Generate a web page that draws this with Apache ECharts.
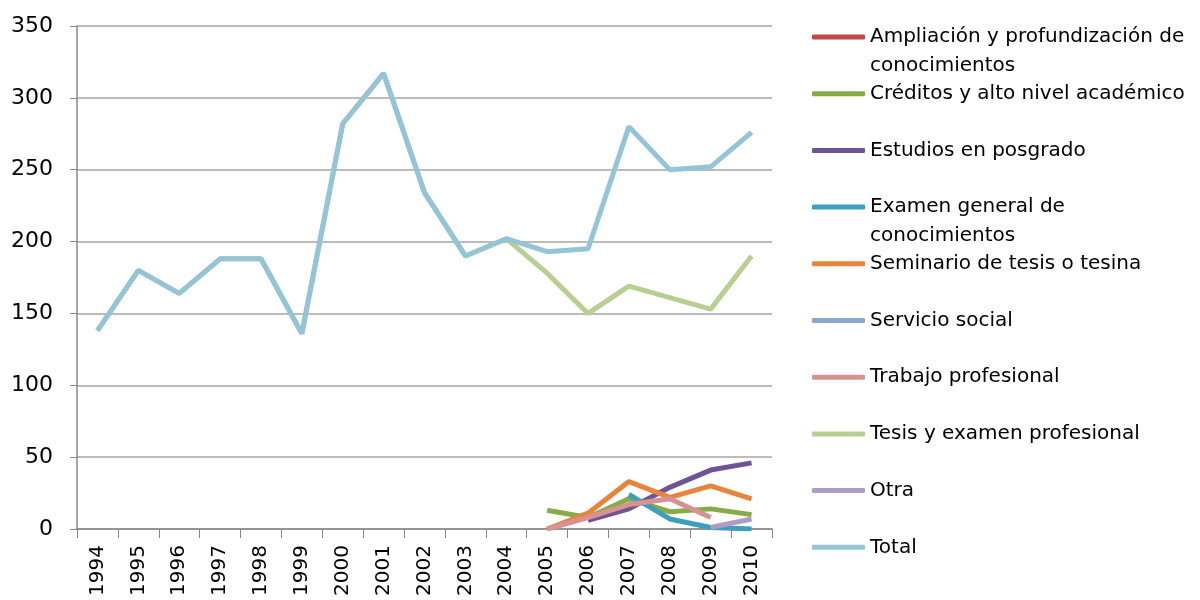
<!DOCTYPE html>
<html>

<head>
    <meta charset="UTF-8">
    <title>ECharts líneas por modalidad</title>
    <script src="https://cdn.jsdelivr.net/npm/echarts@6.0.0/dist/echarts.min.js"></script>
</head>

<body style="margin:0">
    <div id="main" style="width: 1200px; height: 600px;"></div>
    <script>
        // datos
        const years = ['1994', '1995', '1996', '1997', '1998', '1999', '2000', '2001', '2002',
            '2003', '2004', '2005', '2006', '2007', '2008', '2009', '2010'];

        const seriesNames = [
            'Ampliación y profundización de conocimientos',
            'Créditos y alto nivel académico',
            'Estudios en posgrado',
            'Examen general de conocimientos',
            'Seminario de tesis o tesina',
            'Servicio social',
            'Trabajo profesional',
            'Tesis y examen profesional',
            'Otra',
            'Total'
        ];

        const _ = null;
        const ampliacion = [_, _, _, _, _, _, _, _, _, _, _, _, _, _, _, _, _];
        const creditos = [_, _, _, _, _, _, _, _, _, _, _, 13, 8, 21, 12, 14, 10];
        const posgrado = [_, _, _, _, _, _, _, _, _, _, _, _, 6, 14, 29, 41, 46];
        const examen = [_, _, _, _, _, _, _, _, _, _, _, _, _, 24, 7, 1, 0];
        const seminario = [_, _, _, _, _, _, _, _, _, _, _, 0, 11, 33, 22, 30, 21];
        const servicio = [_, _, _, _, _, _, _, _, _, _, _, _, _, _, _, _, _];
        const trabajo = [_, _, _, _, _, _, _, _, _, _, _, 0, 8, 17, 21, 8, _];
        const tesis = [138, 180, 164, 188, 188, 136, 282, 317, 234, 190, 202, 178, 150, 169, 161, 153, 190];
        const otra = [_, _, _, _, _, _, _, _, _, _, _, _, _, _, _, 1, 7];
        const total = [138, 180, 164, 188, 188, 136, 282, 317, 234, 190, 202, 193, 195, 280, 250, 252, 276];

        const allData = [ampliacion, creditos, posgrado, examen, seminario, servicio, trabajo, tesis, otra, total];

        const colors = ['#BE4B48', '#86AB48', '#6E5397', '#3D9FB9', '#E8853D',
            '#8CA6CF', '#D69391', '#B7CF90', '#AB9DC6', '#93C4D7'];

        // etiquetas de leyenda en dos líneas (línea vacía delante para que el icono quede en la primera)
        const wrapped = {
            'Ampliación y profundización de conocimientos': ' \nAmpliación y profundización de\nconocimientos',
            'Examen general de conocimientos': ' \nExamen general de\nconocimientos'
        };

        const fontFamily = 'DejaVu Sans';
        const lineH = 29;

        const legends = seriesNames.map(function (name, i) {
            const iconY = 37 + i * 56.7;
            const twoLines = !!wrapped[name];
            return {
                orient: 'vertical',
                left: 812,
                top: twoLines ? iconY - lineH * 1.5 : iconY - lineH / 2,
                padding: 0,
                icon: 'roundRect',
                itemWidth: 53,
                itemHeight: 5,
                itemGap: 0,
                data: [name],
                formatter: function (n) { return wrapped[n] || n; },
                textStyle: {
                    fontFamily: fontFamily,
                    fontSize: 20,
                    lineHeight: lineH,
                    color: '#000'
                }
            };
        });

        const option = {
            animation: false,
            color: colors,
            legend: legends,
            grid: {
                left: 77,
                right: 428,
                top: 26,
                bottom: 71
            },
            xAxis: {
                type: 'category',
                data: years,
                boundaryGap: true,
                axisLine: { lineStyle: { color: '#888', width: 1.5 } },
                axisTick: { show: true, length: 9, lineStyle: { color: '#888' } },
                axisLabel: {
                    rotate: 90,
                    interval: 0,
                    margin: 16,
                    fontFamily: fontFamily,
                    fontSize: 20,
                    color: '#000'
                }
            },
            yAxis: {
                type: 'value',
                min: 0,
                max: 350,
                interval: 50,
                axisLine: { show: true, lineStyle: { color: '#888', width: 1.5 } },
                axisTick: { show: true, length: 7, lineStyle: { color: '#888' } },
                splitLine: { lineStyle: { color: '#A6A6A6', width: 1.5 } },
                axisLabel: {
                    margin: 24,
                    fontFamily: fontFamily,
                    fontSize: 22,
                    color: '#000'
                }
            },
            series: seriesNames.map(function (name, i) {
                return {
                    name: name,
                    type: 'line',
                    data: allData[i],
                    symbol: 'none',
                    connectNulls: false,
                    lineStyle: { width: 5, color: colors[i] },
                    itemStyle: { color: colors[i] }
                };
            })
        };

        const myChart = echarts.init(document.getElementById('main'));
        myChart.setOption(option);

        window.addEventListener('resize', function () {
            myChart.resize();
        });
    </script>
</body>

</html>
